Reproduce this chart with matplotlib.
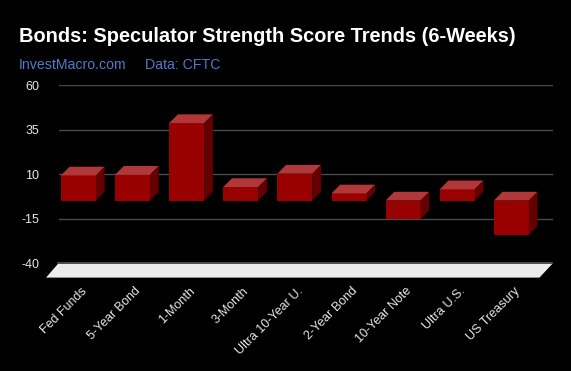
import numpy as np
import matplotlib
matplotlib.use("Agg")
import matplotlib.pyplot as plt
from matplotlib.patches import Polygon

plt.rcParams['font.family'] = ['Liberation Sans', 'DejaVu Sans']

# data
categories = ["Fed Funds", "5-Year Bond", "1-Month", "3-Month", "Ultra 10-Year U.",
              "2-Year Bond", "10-Year Note", "Ultra U.S.", "US Treasury"]
scores = [14.1, 14.5, 43.5, 7.6, 15.1, 4.0, -10.4, 6.3, -19.4]
yticks = [-40, -15, 10, 35, 60]

W, H = 571, 371
fig = plt.figure(figsize=(W / 100, H / 100), dpi=100, facecolor='black')
ax = fig.add_axes([59 / W, 1 - 263 / H, (553 - 59) / W, (263 - 85) / H])
ax.set_facecolor('black')
ax.set_xlim(-0.52, 8.61)
ax.set_ylim(-40, 60)

# 3d effect depth in data units
dx, dy = 0.16, 4.9
bw = 0.647
front_c, top_c, side_c = '#990000', '#b03838', '#650000'

for y in yticks:
    ax.axhline(y, color='#4a4a4a', lw=1, zorder=0)

x = np.arange(len(categories))
vals = np.array(scores)
tops = np.maximum(vals, 0)
bots = np.minimum(vals, 0)
ax.bar(x - dx, tops - bots, bottom=bots - dy, width=bw, color=front_c, zorder=3)
for xi, t, b in zip(x, tops, bots):
    l, r = xi - dx - bw / 2, xi - dx + bw / 2
    ax.add_patch(Polygon([(l, t - dy), (r, t - dy), (r + dx, t), (l + dx, t)],
                         closed=True, color=top_c, lw=0, zorder=3))
    ax.add_patch(Polygon([(r, b - dy), (r, t - dy), (r + dx, t), (r + dx, b)],
                         closed=True, color=side_c, lw=0, zorder=3))

# floor
ax.add_patch(Polygon([(-0.537, -40.4), (8.6, -40.4), (8.36, -48.2), (-0.76, -48.2)],
                     closed=True, facecolor='#ececec', edgecolor='none',
                     clip_on=False, zorder=2))
ax.plot([-0.537, 8.6], [-40, -40], color='#555555', lw=1.2, clip_on=False, zorder=2)

for s in ax.spines.values():
    s.set_visible(False)
ax.set_yticks(yticks)
ax.set_yticklabels([str(v) for v in yticks])
ax.tick_params(axis='y', length=0, pad=14, labelsize=9, labelcolor='#e6e6e6')
ax.set_xticks(x - 0.12)
ax.set_xticklabels(categories, rotation=45, ha='right', rotation_mode='anchor')
ax.tick_params(axis='x', length=0, pad=16, labelsize=9, labelcolor='#e6e6e6')

fig.text(19 / W, 1 - 42 / H, "Bonds: Speculator Strength Score Trends (6-Weeks)",
         color='white', fontsize=14.4, fontweight='bold', va='baseline')
fig.text(19 / W, 1 - 69 / H, "InvestMacro.com", color='#5577cc', fontsize=10.2,
         va='baseline')
fig.text(145 / W, 1 - 69 / H, "Data: CFTC", color='#5577cc', fontsize=10.2,
         va='baseline')

fig.savefig("out.png", dpi=100, facecolor='black')
